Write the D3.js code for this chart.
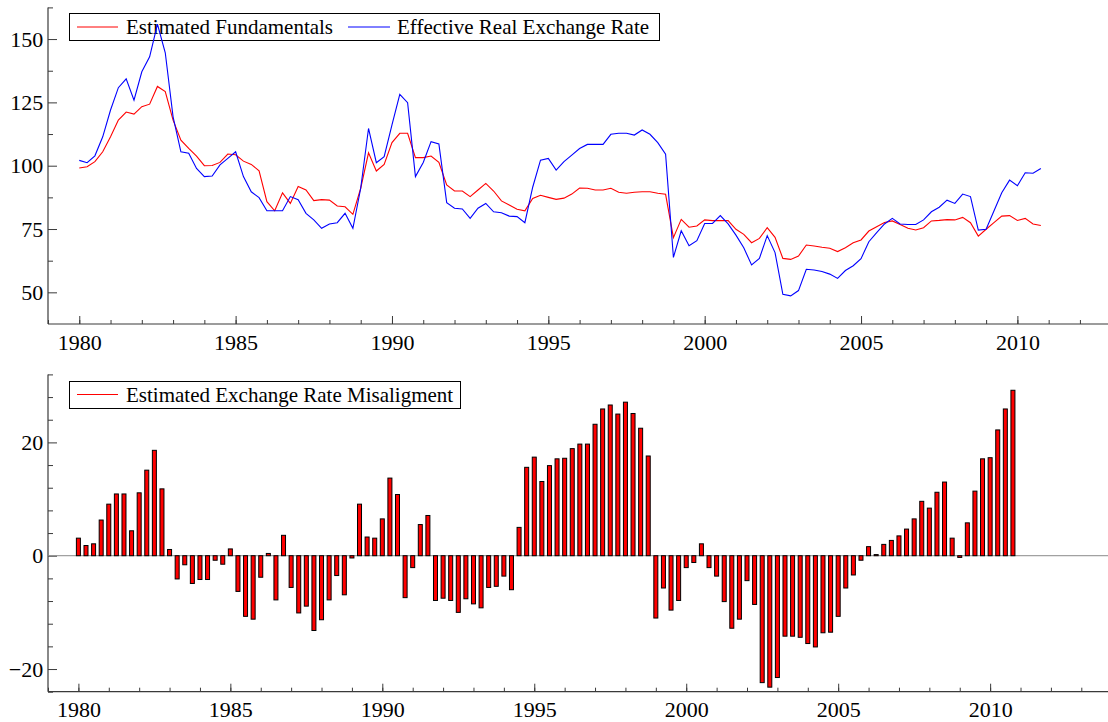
<!DOCTYPE html>
<html><head><meta charset="utf-8">
<script src="https://cdn.jsdelivr.net/npm/d3@7"></script>
<style>
body{margin:0;background:#fff}
svg{display:block}
text{font-family:"Liberation Serif","Times New Roman",serif;fill:#000}
</style>
</head><body><svg id="c" width="1108" height="722"></svg>
<script>
// Quarterly data, 1980Q1 - 2010Q4
const fundamentals = [
  99.1, 99.6, 101.6, 105.5, 111.4, 118.0, 121.2, 120.4, 123.3, 124.3, 131.3, 129.3, 118.0, 110.1, 106.8, 103.8,
  100.0, 100.1, 101.3, 104.6, 104.3, 101.8, 100.5, 98.0, 85.8, 82.2, 89.3, 85.1, 91.8,
  90.4, 86.2, 86.6, 86.4, 84.1, 83.8, 80.8, 91.1, 105.1, 97.9, 100.5, 109.1, 112.8, 112.8, 103.2, 103.2, 103.8, 101.3,
  92.4, 90.0, 90.0, 87.8, 90.4, 93.0, 90.0, 86.1, 84.5, 82.8, 82.2, 87.1, 88.3, 87.5, 86.7, 87.2, 88.8, 91.2,
  91.1, 90.4, 90.4, 91.1, 89.5, 89.1, 89.5, 89.7, 89.7, 89.1, 88.7, 71.6, 78.8, 75.7, 76.2, 78.6, 78.3, 78.3, 78.3,
  74.9, 72.9, 69.6, 71.3, 75.5, 71.7, 63.4, 63.0, 64.3, 68.7, 68.3, 67.8, 67.4, 66.1, 67.6, 69.6, 70.7,
  74.2, 75.9, 77.6, 78.2, 76.8, 75.3, 74.6, 75.5, 78.2, 78.4, 78.7, 78.6, 79.6, 77.5, 72.2, 74.9, 77.5, 80.1, 80.3,
  78.4, 79.2, 77.0, 76.4
];
const effectiveRate = [
  102.1, 101.2, 103.9, 111.4, 122.0, 130.8, 134.3, 125.9, 137.1, 143.0, 155.9, 144.6, 119.3, 105.5, 104.9, 98.9,
  95.7, 95.9, 100.3, 102.9, 105.5, 95.7, 89.7, 87.4, 82.2, 82.2, 82.2, 87.8, 86.6,
  81.2, 78.6, 75.3, 77.0, 77.5, 81.2, 75.3, 91.1, 114.7, 101.2, 103.6, 116.1, 128.2, 124.9, 95.7, 101.3, 109.5, 108.6,
  85.4, 83.2, 82.9, 79.2, 83.2, 85.1, 81.8, 81.4, 80.1, 79.9, 77.5, 91.5, 102.2, 102.9, 98.3, 101.6, 104.2, 106.8,
  108.4, 108.4, 108.4, 112.4, 112.8, 112.8, 112.1, 114.1, 112.4, 109.1, 104.5, 63.8, 74.3, 68.4, 70.4, 77.2, 77.2, 80.3, 77.0,
  72.6, 67.6, 60.8, 63.4, 72.4, 65.7, 49.2, 48.6, 50.7, 59.1, 58.8, 58.2, 57.2, 55.5, 58.6, 60.5, 63.3,
  70.0, 73.6, 77.0, 79.2, 77.0, 76.8, 76.8, 78.6, 81.8, 83.6, 86.4, 85.1, 88.8, 87.8, 74.6, 74.9, 82.1, 89.3, 94.3,
  92.1, 97.2, 97.0, 98.9
];
const misalignment = [
  3.1, 1.8, 2.1, 6.3, 9.1, 10.9, 10.9, 4.4, 11.1, 15.1, 18.6, 11.8, 1.1, -4.1, -1.6, -4.9,
  -4.2, -4.2, -0.8, -1.5, 1.2, -6.3, -10.7, -11.2, -3.8, 0.4, -7.8, 3.6, -5.6,
  -10.1, -8.9, -13.2, -11.3, -7.8, -3.5, -6.9, -0.4, 9.1, 3.3, 3.1, 6.5, 13.7, 10.8, -7.4, -2.1, 5.5, 7.1,
  -7.9, -7.5, -7.9, -10.0, -7.6, -8.5, -9.2, -5.6, -5.4, -3.6, -6.0, 5.0, 15.6, 17.4, 13.1, 15.9, 17.1, 17.2,
  18.9, 19.7, 19.7, 23.2, 25.9, 26.6, 25.0, 27.1, 25.1, 22.5, 17.6, -11.0, -5.7, -9.6, -7.9, -2.1, -1.2, 2.1, -2.1,
  -3.6, -8.1, -12.8, -11.2, -4.4, -8.6, -22.4, -23.2, -21.5, -14.2, -14.2, -14.4, -15.5, -16.1, -13.6, -13.5, -10.7,
  -5.7, -3.4, -0.8, 1.6, 0.2, 2.0, 2.7, 3.5, 4.7, 6.5, 9.6, 8.4, 11.2, 13.0, 3.1, -0.3, 5.8, 11.4, 17.1,
  17.3, 22.2, 25.9, 29.2
];
const startYear = 1980;
const dates = fundamentals.map((_, i) => startYear + i / 4);
const yearLabels = [1980, 1985, 1990, 1995, 2000, 2005, 2010];
const topTicks = [50, 75, 100, 125, 150];
const bottomTicks = [-20, 0, 20];
const topLegend = ["Estimated Fundamentals", "Effective Real Exchange Rate"];
const bottomLegend = ["Estimated Exchange Rate Misaligment"];

const svg = d3.select("#c");
const axisColor = "#3a3a3a";
const RED = "#ff0000", BLUE = "#0000ff";
const TICK_FS = 22, LEG_FS = 21;

function drawAxes(g, x, y, yMajor, yMinor, xMinor) {
  const [x0] = x.range();
  const [yb, yt] = y.range();
  g.append("g").attr("transform", `translate(0,${yb})`)
    .call(d3.axisBottom(x).tickValues(xMinor).tickSize(-4).tickFormat(""))
    .call(a => { a.select(".domain").remove(); a.selectAll("line").attr("stroke", axisColor); });
  g.append("g").attr("transform", `translate(0,${yb})`)
    .call(d3.axisBottom(x).tickValues(yearLabels).tickSize(-8).tickFormat(d3.format("d")))
    .call(a => { a.select(".domain").remove(); a.selectAll("line").attr("stroke", axisColor);
      a.selectAll("text").attr("font-size", TICK_FS).attr("font-family", "Liberation Serif")
        .attr("fill", "#000").attr("dy", 0).attr("y", 25.5); });
  g.append("g").attr("transform", `translate(${x0},0)`)
    .call(d3.axisLeft(y).tickValues(yMinor).tickSize(-5).tickFormat(""))
    .call(a => { a.select(".domain").remove(); a.selectAll("line").attr("stroke", axisColor); });
  g.append("g").attr("transform", `translate(${x0},0)`)
    .call(d3.axisLeft(y).tickValues(yMajor).tickSize(-9).tickPadding(4.8).tickFormat(d3.format("d")))
    .call(a => { a.select(".domain").remove(); a.selectAll("line").attr("stroke", axisColor);
      a.selectAll("text").attr("font-size", TICK_FS).attr("font-family", "Liberation Serif").attr("fill", "#000"); });
  g.append("line").attr("x1", x0).attr("x2", 1108).attr("y1", yb).attr("y2", yb).attr("stroke", axisColor).attr("stroke-width", 1.2);
  g.append("line").attr("x1", x0).attr("x2", x0).attr("y1", yb).attr("y2", yt).attr("stroke", axisColor).attr("stroke-width", 1.2);
}

// ---------- Top panel ----------
const xTop = d3.scaleLinear().domain([1979, 2013]).range([48, 1111.2]);
const yTop = d3.scaleLinear().domain([37.5, 162.5]).range([324, 7.4]);
const gTop = svg.append("g");
drawAxes(gTop, xTop, yTop, topTicks, d3.range(62.5, 163, 25), d3.range(1979, 2014));

// legend top (drawn beneath the lines)
const lt = gTop.append("g");
lt.append("rect").attr("x", 69.5).attr("y", 13.5).attr("width", 590).attr("height", 27).attr("fill", "#fff").attr("stroke", "#000");
lt.append("line").attr("x1", 77).attr("x2", 118).attr("y1", 27).attr("y2", 27).attr("stroke", RED);
lt.append("text").attr("x", 126).attr("y", 34).attr("font-size", LEG_FS).text(topLegend[0]);
lt.append("line").attr("x1", 348).attr("x2", 390).attr("y1", 27).attr("y2", 27).attr("stroke", BLUE);
lt.append("text").attr("x", 397).attr("y", 34).attr("font-size", LEG_FS).text(topLegend[1]);

const lineTop = d3.line().x((d, i) => xTop(dates[i])).y(d => yTop(d));
gTop.append("path").datum(fundamentals).attr("d", lineTop).attr("fill", "none").attr("stroke", RED).attr("stroke-width", 1.1);
gTop.append("path").datum(effectiveRate).attr("d", lineTop).attr("fill", "none").attr("stroke", BLUE).attr("stroke-width", 1.1);

// ---------- Bottom panel ----------
const xBot = d3.scaleLinear().domain([1979, 2014]).range([48, 1111.7]);
const yBot = d3.scaleLinear().domain([-24, 32]).range([691.7, 374.4]);
const gBot = svg.append("g");
drawAxes(gBot, xBot, yBot, bottomTicks, d3.range(-24, 33, 4).filter(v => v % 20 !== 0), d3.range(1979, 2015));

const lb = gBot.append("g");
lb.append("rect").attr("x", 69.5).attr("y", 381.5).attr("width", 391).attr("height", 27).attr("fill", "#fff").attr("stroke", "#000");
lb.append("line").attr("x1", 77).attr("x2", 118).attr("y1", 394.5).attr("y2", 394.5).attr("stroke", RED);
lb.append("text").attr("x", 126).attr("y", 402).attr("font-size", LEG_FS).text(bottomLegend[0]);

gBot.append("line").attr("x1", 48).attr("x2", 1108).attr("y1", yBot(0)).attr("y2", yBot(0)).attr("stroke", "#8a8a8a").attr("stroke-width", 1);

const bw = 4;
gBot.append("g").selectAll("rect").data(misalignment).join("rect")
  .attr("x", (d, i) => xBot(dates[i]) - bw / 2)
  .attr("y", d => yBot(Math.max(0, d)))
  .attr("width", bw)
  .attr("height", d => Math.abs(yBot(d) - yBot(0)))
  .attr("fill", RED).attr("stroke", "#000").attr("stroke-width", 1);
</script>
</body></html>
